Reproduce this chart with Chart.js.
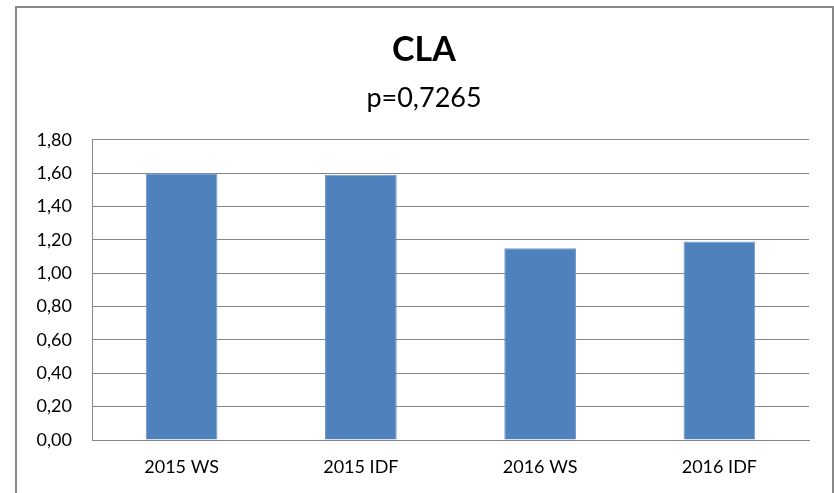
<!DOCTYPE html>
<html>
<head>
<meta charset="utf-8">
<script src="https://cdn.jsdelivr.net/npm/chart.js@4"></script>
<style>
  html, body { margin: 0; padding: 0; background: #fff; }
  #wrap { position: relative; width: 834px; height: 493px; overflow: hidden; }
  #frame { position: absolute; left: 15px; top: 6px; width: 815px; height: 500px; border: 2px solid #888888; pointer-events: none; }
  canvas { position: absolute; left: 0; top: 0; }
</style>
</head>
<body>
<div id="wrap">
  <canvas id="c" width="834" height="493"></canvas>
  <div id="frame"></div>
</div>
<script>
const categories = ["2015 WS", "2015 IDF", "2016 WS", "2016 IDF"];
const claValues = [1.60, 1.59, 1.15, 1.19];
const chartTitle = "CLA";
const chartSubtitle = "p=0,7265";
const yMin = 0, yMax = 1.8, yStep = 0.2;

const FONT = "Lato, 'Open Sans', 'Liberation Sans', sans-serif";

new Chart(document.getElementById('c'), {
  type: 'bar',
  data: {
    labels: categories,
    datasets: [{
      data: claValues,
      backgroundColor: '#4F81BD',
      borderColor: '#7397C7',
      borderWidth: 1,
      barPercentage: 0.4,
      categoryPercentage: 1.0
    }]
  },
  options: {
    responsive: false,
    animation: false,
    layout: { padding: { top: 13, left: 15, right: 1, bottom: 0 } },
    plugins: {
      legend: { display: false },
      tooltip: { enabled: false },
      title: {
        display: true,
        text: chartTitle,
        color: '#000',
        font: { family: FONT, size: 34, weight: 'bold', lineHeight: 1.2 },
        padding: { top: 17, bottom: 0 }
      },
      subtitle: {
        display: true,
        text: chartSubtitle,
        color: '#000',
        font: { family: FONT, size: 27, weight: 'normal', lineHeight: 1.2 },
        padding: { top: 11, bottom: 25.6 }
      }
    },
    scales: {
      x: {
        grid: { display: false, drawTicks: false },
        border: { display: true, color: '#868686', width: 1 },
        ticks: { color: '#000', font: { family: FONT, size: 18 }, padding: 16, maxRotation: 0 },
        afterFit: (s) => { s.height = 53; }
      },
      y: {
        min: yMin, max: yMax,
        grid: { color: '#868686', lineWidth: 1, drawTicks: false },
        border: { display: true, color: '#868686', width: 1 },
        ticks: {
          stepSize: yStep,
          color: '#000',
          font: { family: FONT, size: 18 },
          padding: 20,
          callback: (v) => Number(v).toFixed(2).replace('.', ',')
        },
        afterFit: (s) => { s.width = 77; }
      },
      yr: {
        position: 'right',
        display: true,
        grid: { display: false, drawTicks: false },
        border: { display: false },
        ticks: { display: false },
        afterFit: (s) => { s.width = 24; }
      }
    }
  }
});
</script>
</body>
</html>
